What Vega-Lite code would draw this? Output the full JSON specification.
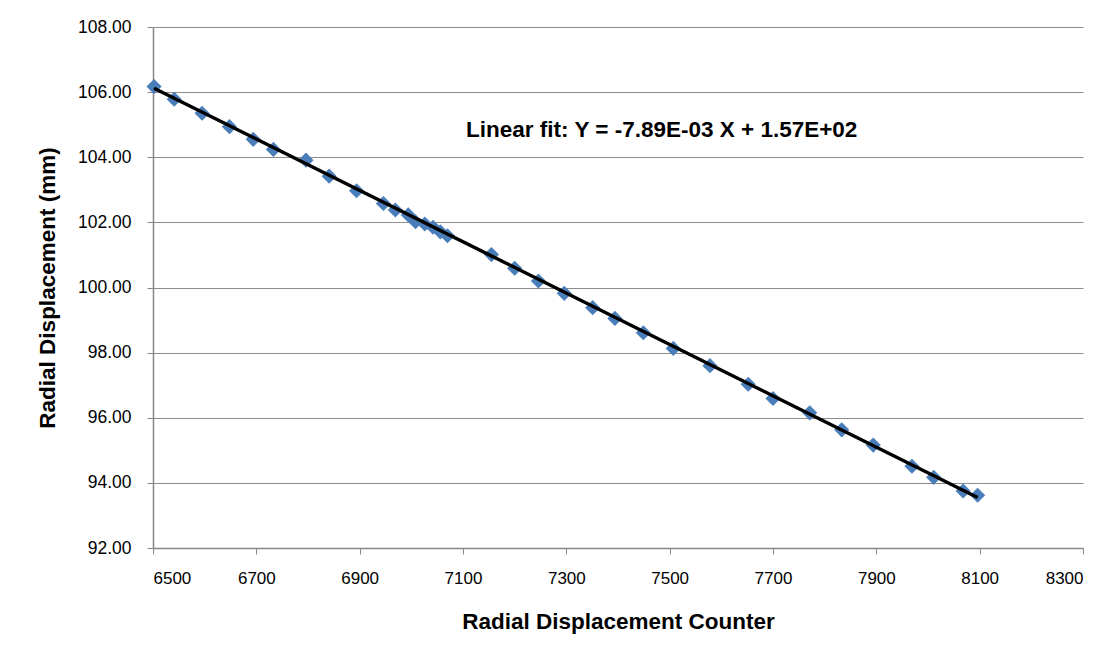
{
  "$schema": "https://vega.github.io/schema/vega-lite/v6.json",
  "width": 930,
  "height": 521,
  "autosize": {"type": "none"},
  "padding": {"left": 153, "top": 27, "right": 36, "bottom": 108},
  "background": "white",
  "config": {
    "view": {"stroke": null},
    "font": "Liberation Sans"
  },
  "datasets": {
    "pts": [
      {"counter": 6502, "disp": 106.17},
      {"counter": 6541, "disp": 105.78},
      {"counter": 6595, "disp": 105.35},
      {"counter": 6648, "disp": 104.94},
      {"counter": 6694, "disp": 104.55},
      {"counter": 6733, "disp": 104.24},
      {"counter": 6796, "disp": 103.91},
      {"counter": 6841, "disp": 103.42},
      {"counter": 6894, "disp": 102.97},
      {"counter": 6946, "disp": 102.58},
      {"counter": 6969, "disp": 102.38},
      {"counter": 6994, "disp": 102.23},
      {"counter": 7008, "disp": 102.02},
      {"counter": 7026, "disp": 101.95},
      {"counter": 7042, "disp": 101.85},
      {"counter": 7056, "disp": 101.71},
      {"counter": 7070, "disp": 101.59},
      {"counter": 7155, "disp": 101.01},
      {"counter": 7200, "disp": 100.59},
      {"counter": 7246, "disp": 100.20},
      {"counter": 7296, "disp": 99.82},
      {"counter": 7351, "disp": 99.38},
      {"counter": 7394, "disp": 99.05},
      {"counter": 7449, "disp": 98.61},
      {"counter": 7507, "disp": 98.13},
      {"counter": 7578, "disp": 97.60},
      {"counter": 7652, "disp": 97.03},
      {"counter": 7700, "disp": 96.59},
      {"counter": 7771, "disp": 96.15},
      {"counter": 7833, "disp": 95.63},
      {"counter": 7894, "disp": 95.16},
      {"counter": 7969, "disp": 94.51},
      {"counter": 8011, "disp": 94.17},
      {"counter": 8068, "disp": 93.75},
      {"counter": 8096, "disp": 93.62}
    ],
    "fit": [
      {"counter": 6502, "disp": 106.12},
      {"counter": 8096, "disp": 93.55}
    ],
    "note": [
      {"counter": 7106, "disp": 104.84, "label": "Linear fit: Y = -7.89E-03 X + 1.57E+02"}
    ]
  },
  "layer": [
    {
      "data": {"name": "pts"},
      "mark": {"type": "point", "shape": "diamond", "filled": true, "size": 230, "color": "#4a7ebb", "opacity": 1},
      "encoding": {
        "x": {
          "field": "counter", "type": "quantitative",
          "scale": {"domain": [6500, 8300], "nice": false, "zero": false},
          "axis": {
            "values": [6500, 6700, 6900, 7100, 7300, 7500, 7700, 7900, 8100, 8300],
            "format": "d",
            "title": "Radial Displacement Counter",
            "grid": false,
            "domainColor": "#878787", "domainWidth": 1.5,
            "tickColor": "#878787", "tickSize": 6,
            "labelFont": "Liberation Sans", "labelFontSize": 17, "labelColor": "#000000",
            "labelPadding": 16,
            "titleFont": "Liberation Sans", "titleFontSize": 22.5, "titleFontWeight": "bold", "titleColor": "#000000",
            "titlePadding": 24
          }
        },
        "y": {
          "field": "disp", "type": "quantitative",
          "scale": {"domain": [92, 108], "nice": false, "zero": false},
          "axis": {
            "values": [92, 94, 96, 98, 100, 102, 104, 106, 108],
            "format": ".2f",
            "title": "Radial Displacement (mm)",
            "grid": true, "gridColor": "#8c8c8c", "gridWidth": 1.2,
            "domainColor": "#878787", "domainWidth": 1.5,
            "tickColor": "#878787", "tickSize": 6,
            "labelFont": "Liberation Sans", "labelFontSize": 17.5, "labelColor": "#000000",
            "labelPadding": 16,
            "titleFont": "Liberation Sans", "titleFontSize": 22.5, "titleFontWeight": "bold", "titleColor": "#000000",
            "titlePadding": 18
          }
        }
      }
    },
    {
      "data": {"name": "fit"},
      "mark": {"type": "line", "color": "#000000", "strokeWidth": 3.5},
      "encoding": {
        "x": {"field": "counter", "type": "quantitative"},
        "y": {"field": "disp", "type": "quantitative"}
      }
    },
    {
      "data": {"name": "note"},
      "mark": {"type": "text", "align": "left", "baseline": "middle", "fontSize": 22.5, "fontWeight": "bold", "font": "Liberation Sans", "color": "#000000"},
      "encoding": {
        "x": {"field": "counter", "type": "quantitative"},
        "y": {"field": "disp", "type": "quantitative"},
        "text": {"field": "label"}
      }
    }
  ]
}
